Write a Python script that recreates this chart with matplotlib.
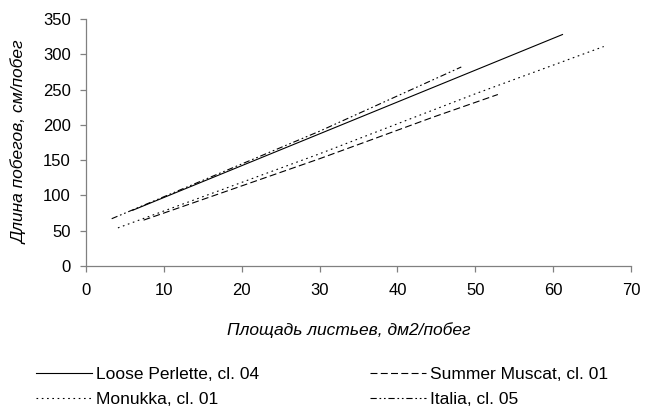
import matplotlib
matplotlib.use("Agg")
import matplotlib.pyplot as plt

plt.rcParams['font.family'] = ['Liberation Sans', 'DejaVu Sans']
plt.rcParams['lines.scale_dashes'] = False

# Data
perlette_x = [6.0, 61.2]
perlette_y = [79, 328]
summer_x = [7.4, 30.0, 44.6, 52.9]
summer_y = [65, 152, 211, 243]
monukka_x = [4.1, 30.0, 50.0, 66.5]
monukka_y = [54, 159, 244, 311]
italia_x = [3.3, 30.0, 48.2]
italia_y = [67, 191, 282]

labels = ["Loose Perlette, cl. 04", "Summer Muscat, cl. 01",
          "Monukka, cl. 01", "Italia, cl. 05"]
xticks = [0, 10, 20, 30, 40, 50, 60, 70]
yticks = [0, 50, 100, 150, 200, 250, 300, 350]

W, H = 646, 415
fig = plt.figure(figsize=(W / 100, H / 100), dpi=100)
ax = fig.add_axes([86 / W, 1 - 266 / H, (631 - 86) / W, (266 - 19) / H])

lw = 0.8
l1, = ax.plot(perlette_x, perlette_y, color='black', lw=lw, linestyle='-')
l2, = ax.plot(summer_x, summer_y, color='black', lw=lw, linestyle=(0, (5, 2.4)))
l3, = ax.plot(monukka_x, monukka_y, color='black', lw=lw, linestyle=(0, (1.2, 2.6)))
l4, = ax.plot(italia_x, italia_y, color='black', lw=lw,
              linestyle=(0, (4.5, 2, 1.2, 2, 1.2, 2)))

ax.set_xlim(0, 70)
ax.set_ylim(0, 350)
ax.set_xticks(xticks)
ax.set_yticks(yticks)
for s in ['top', 'right']:
    ax.spines[s].set_visible(False)
for s in ['left', 'bottom']:
    ax.spines[s].set_color('#808080')
    ax.spines[s].set_linewidth(0.9)
ax.tick_params(axis='both', direction='out', length=4, width=0.9, color='#808080',
               labelsize=12, labelcolor='black')
ax.tick_params(axis='x', pad=8)
ax.tick_params(axis='y', pad=7)

fig.text(349 / W, 1 - 330 / H, "Площадь листьев, дм2/побег", fontsize=12.5,
         style='italic', ha='center', va='center')
fig.text(20 / W, 1 - 142 / H, "Длина побегов, см/побег", fontsize=12.5,
         style='italic', ha='center', va='center', rotation=90)

# Legend: two columns below the plot
common = dict(loc='upper left', frameon=False, fontsize=12.5, handlelength=3.2,
              handletextpad=0.25, labelspacing=0.55, borderpad=0, borderaxespad=0)
fig.legend([l1, l3], [labels[0], labels[2]], bbox_to_anchor=(36 / W, 1 - 367 / H), **common)
fig.legend([l2, l4], [labels[1], labels[3]], bbox_to_anchor=(370 / W, 1 - 367 / H), **common)

fig.savefig("out.png", dpi=100)
